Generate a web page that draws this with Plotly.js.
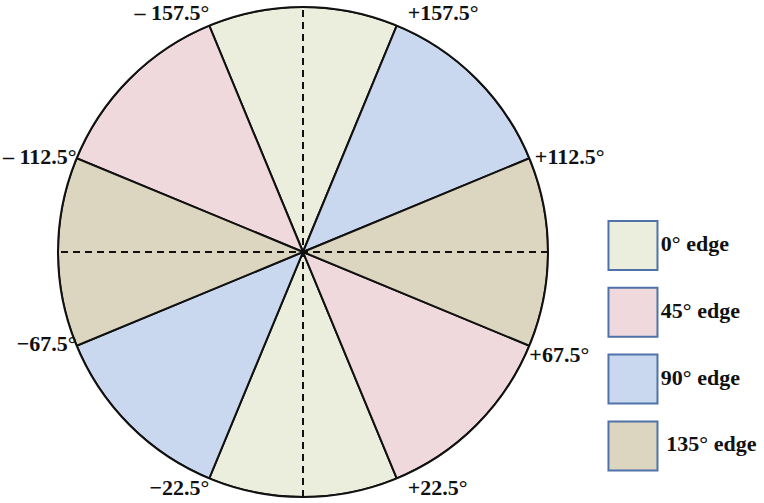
<!DOCTYPE html>
<html><head><meta charset="utf-8">
<script src="https://cdn.plot.ly/plotly-3.0.1.min.js"></script>
<style>html,body{margin:0;padding:0;background:#fff}#chart{width:764px;height:503px}</style>
</head><body><div id="chart"></div>
<script>
// Categories and their sector centres (degrees, 0 = down, + = counter-clockwise)
const categories = ["0° edge", "45° edge", "90° edge", "135° edge"];
const legendLabels = ["0° edge", "45° edge", "90° edge", "\u00a0135° edge"];
const sectorCenters = [[0, 180], [45, 225], [135, 315], [90, 270]];
const sectorWidth = 45;
const sectorRadius = 1;
const colors = ["#ebeedd", "#f0d9dc", "#c9d8ef", "#dcd6c0"];
// sector boundaries and their labels
const boundaryTicks = [22.5, 67.5, 112.5, 157.5, 337.5, 292.5, 247.5, 202.5];
const boundaryLabels = ["\u00a0\u00a0+22.5°", "+67.5°", "\u00a0+112.5°", "\u00a0\u00a0+157.5°", "−22.5°", "−67.5°", "– 112.5°", "– 157.5°"];
const labelSides = ["bottom right", "bottom right", "middle right", "top right", "bottom left", "middle left", "middle left", "top left"];
const dashedAxes = [[0, 180], [90, 270]];

const font = {family: "Liberation Serif, Times New Roman, serif", size: 22, color: "#111"};
const traces = [];
categories.forEach((c, i) => {
  traces.push({
    type: "barpolar", name: c,
    theta: sectorCenters[i], r: sectorCenters[i].map(() => sectorRadius),
    width: sectorCenters[i].map(() => sectorWidth),
    marker: {color: colors[i], line: {color: "#111", width: 2}},
    showlegend: false, hoverinfo: "skip"
  });
});
dashedAxes.forEach(d => {
  traces.push({
    type: "scatterpolar", mode: "lines",
    theta: [d[0], d[0], d[1]], r: [sectorRadius, 0, sectorRadius],
    line: {color: "#111", width: 2, dash: "7px,5px"},
    showlegend: false, hoverinfo: "skip"
  });
});
traces.push({
  type: "scatterpolar", mode: "text", cliponaxis: false,
  theta: boundaryTicks, r: boundaryTicks.map(() => sectorRadius),
  text: boundaryLabels.map(t => "<b>" + t + "</b>"), textposition: labelSides,
  textfont: font, showlegend: false, hoverinfo: "skip"
});
// custom legend boxes
traces.push({
  type: "scatter", mode: "markers", xaxis: "x", yaxis: "y", cliponaxis: false,
  x: categories.map(() => 0.314), y: categories.map((c, i) => i),
  marker: {symbol: "square", size: 49, color: colors, line: {color: "#4f73a8", width: 2}},
  showlegend: false, hoverinfo: "skip"
});
traces.push({
  type: "scatter", mode: "text", xaxis: "x", yaxis: "y", cliponaxis: false,
  x: categories.map(() => 0.46), y: categories.map((c, i) => i),
  text: legendLabels.map(t => "<b>" + t + "</b>"), textposition: "middle right",
  textfont: font, showlegend: false, hoverinfo: "skip"
});

const layout = {
  width: 764, height: 503,
  margin: {l: 0, r: 0, t: 0, b: 0},
  paper_bgcolor: "#fff", plot_bgcolor: "rgba(0,0,0,0)",
  showlegend: false,
  polar: {
    domain: {x: [58/764, 548/764], y: [6/503, 496/503]},
    bgcolor: "#fff", bargap: 0,
    radialaxis: {visible: false, range: [0, sectorRadius]},
    angularaxis: {
      rotation: 270, direction: "counterclockwise",
      showgrid: false, showline: true, linecolor: "#111", linewidth: 2,
      ticks: "", showticklabels: false
    }
  },
  xaxis: {domain: [0.75, 1], range: [0, 1], visible: false, fixedrange: true},
  yaxis: {domain: [0, 1], range: [3.855, -3.675], visible: false, fixedrange: true},
  font: font
};
Plotly.newPlot("chart", traces, layout, {staticPlot: true});
</script></body></html>
